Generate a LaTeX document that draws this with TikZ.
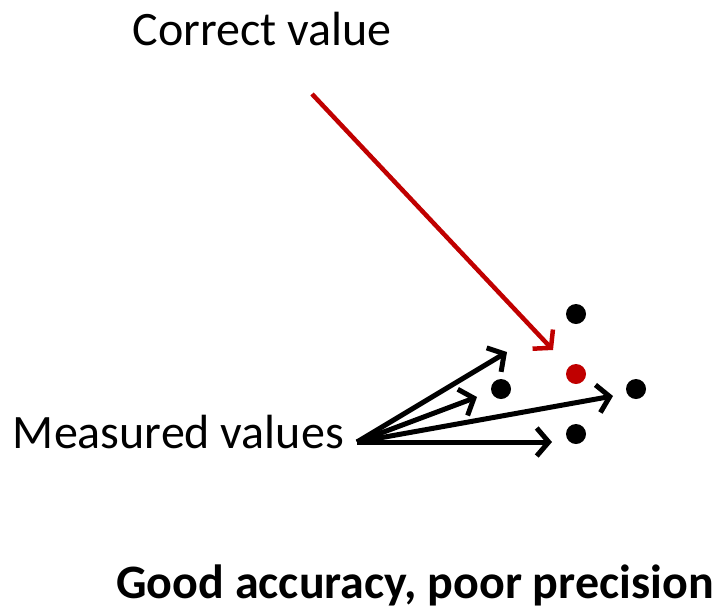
\documentclass[tikz,border=0pt]{standalone}
\usepackage{fontspec}
\setmainfont{Carlito}
\usetikzlibrary{arrows.meta}
\definecolor{accred}{RGB}{192,0,0}
\begin{document}
\begin{tikzpicture}[x=1pt,y=-1pt,
  lbl/.style={inner sep=0pt,font=\fontsize{48}{56}\selectfont},
  dotnode/.style={circle,fill=black,minimum size=20pt,inner sep=0pt},
  meas/.style={line width=5pt,-{Straight Barb[length=12pt,width=28pt]}},
  corr/.style={draw=accred,line width=4.5pt,-{Straight Barb[length=12pt,width=28pt]}}]
\useasboundingbox (0,0) rectangle (722,614);
\node[lbl,anchor=base] (ctitle) at (262,45) {Correct value};
\node[lbl,anchor=base east] (mtitle) at (344,448) {Measured values};
\node[lbl,anchor=base,font=\fontsize{48}{56}\selectfont\bfseries] (caption) at (415,598) {Good accuracy, poor precision};
\node[dotnode] (d1) at (576,314) {};
\node[dotnode,fill=accred] (dr) at (576,374) {};
\node[dotnode] (d2) at (501,389) {};
\node[dotnode] (d3) at (636,389) {};
\node[dotnode] (d4) at (576,434) {};
\coordinate (src) at (357,442);
\coordinate (csrc) at (312,94);
\coordinate (ctip) at (553,350);
\coordinate (t1) at (507,352);
\coordinate (t2) at (477,397);
\coordinate (t3) at (613,396);
\coordinate (t4) at (552,442);
\draw[corr] (csrc) -- (ctip);
\draw[meas] (src) -- (t1);
\draw[meas] (src) -- (t2);
\draw[meas] (src) -- (t3);
\draw[meas] (src) -- (t4);
\end{tikzpicture}
\end{document}
